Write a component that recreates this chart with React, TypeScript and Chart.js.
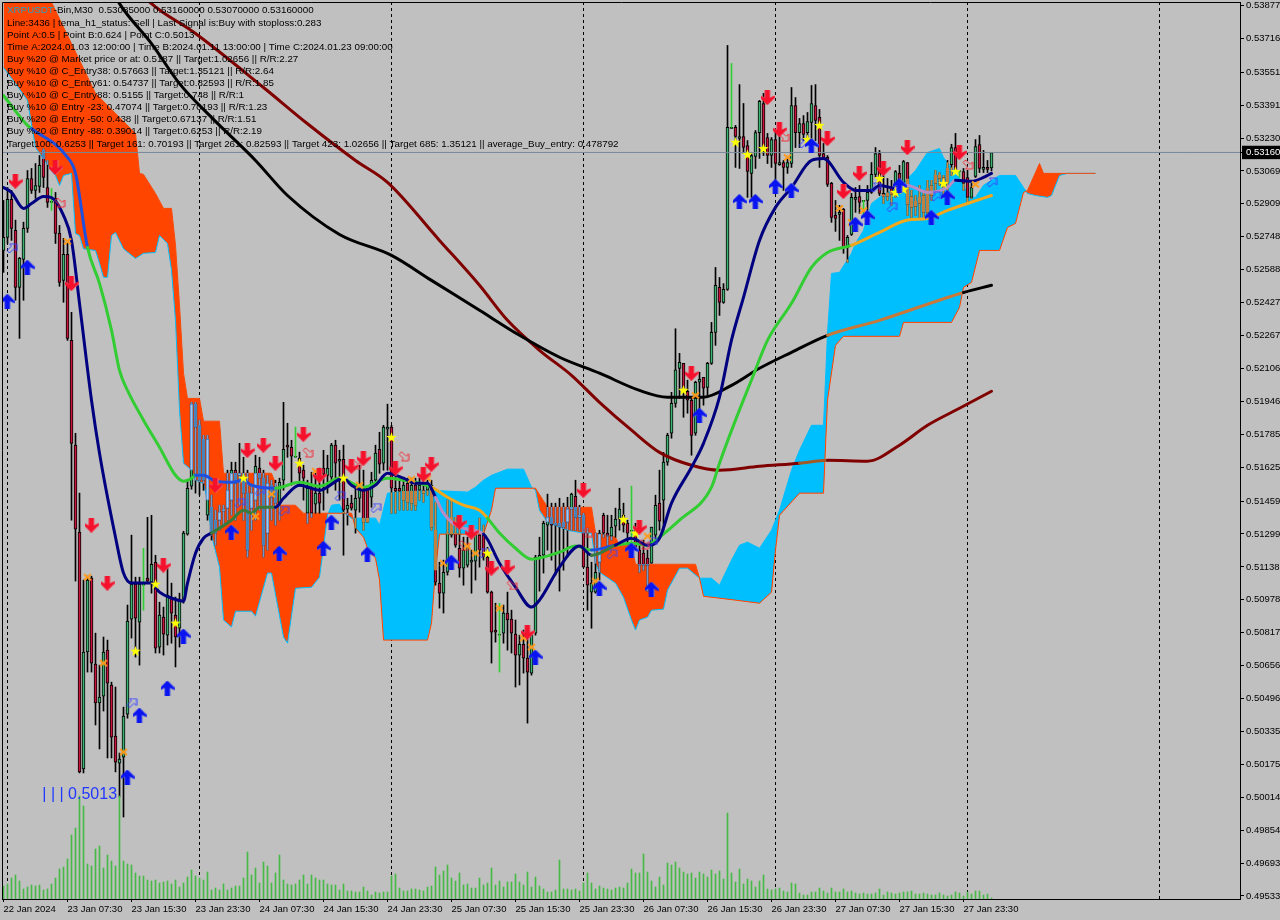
import React, { useEffect, useRef } from "react";
import { Chart, registerables } from "chart.js";

Chart.register(...registerables);

const opens = [
.52682,.52746,.52931,.5278,.52502,.52638,.5279,.53033,.52975,.52994,
.5317,.52989,.52916,.52936,.52765,.52536,.52663,.52243,.51732,.51308,
.50152,.50723,.51083,.50664,.50474,.50508,.50732,.50562,.50313,.50181,
.5021,.5042,.50883,.51054,.50869,.51049,.51083,.51064,.51161,.50747,
.50893,.50805,.50986,.50903,.50839,.50981,.51298,.51532,.51932,.51829,
.5176,.5139,.51429,.51366,.51366,.5141,.51425,.51464,.5161,.51585,
.51595,.51498,.51425,.51464,.5162,.51571,.51303,.51537,.51527,.51449,
.51561,.51732,.51722,.51673,.51668,.5161,.514,.51522,.51444,.51498,
.5162,.51585,.51576,.51732,.51654,.51663,.5142,.51449,.51415,.51473,
.51522,.51522,.51478,.51561,.51712,.51644,.5181,.5182,.51522,.51522,
.51464,.51546,.51449,.51537,.51512,.51512,.51512,.51537,.51317,.51059,
.5101,.51112,.51293,.51303,.51229,.51132,.51147,.51161,.51166,.51293,
.51293,.51186,.51015,.5083,.50805,.50815,.50913,.50883,.5081,.50708,
.5076,.50693,.5062,.50815,.51181,.51195,.51342,.5138,.51351,.51351,
.51356,.51356,.5142,.51483,.5138,.5139,.51137,.51015,.51015,.51161,
.5139,.51303,.51288,.51337,.51371,.5139,.51351,.51312,.51317,.5122,
.51205,.51181,.51156,.51293,.51449,.51464,.51649,.5179,.51936,.52107,
.52131,.51995,.51951,.5179,.52039,.52063,.52014,.52131,.52282,.52502,
.52429,.52492,.53277,.53282,.53228,.53238,.53194,.53058,.53141,.53257,
.53399,.53233,.53145,.53223,.53101,.53111,.53087,.53106,.53389,.53257,
.53301,.53257,.53306,.53389,.53331,.53155,.53136,.53009,.52853,.52858,
.52882,.52697,.5276,.52931,.52945,.52921,.52926,.52965,.53053,.53155,
.5296,.52945,.52985,.52985,.53058,.53014,.53111,.52892,.52921,.52911,
.5295,.52868,.5295,.53009,.53033,.52999,.53014,.53101,.53184,.53067,
.53067,.53038,.52941,.53043,.53199,.53077,.53087,.53085];

const highs = [
.52926,.52989,.52975,.5283,.52648,.5282,.53072,.53082,.53106,.53145,
.53179,.53121,.52921,.52965,.52804,.52741,.52716,.5238,.5179,.51498,
.51074,.51093,.51093,.50815,.50659,.50796,.50781,.50576,.50552,.5023,
.50454,.50952,.51293,.51088,.51088,.51054,.5138,.5139,.51195,.50966,
.50942,.51132,.51059,.50991,.5101,.51312,.51561,.51941,.51941,.51854,
.5178,.5178,.51488,.51415,.51439,.51439,.5161,.51649,.51649,.51741,
.51673,.5161,.51537,.51683,.51673,.5161,.51585,.51561,.51561,.51571,
.51941,.51839,.51756,.51678,.51698,.51634,.51561,.516,.51595,.5162,
.51707,.51683,.51741,.51756,.51707,.51732,.51473,.51488,.51537,.51634,
.5161,.51522,.516,.51732,.51795,.51829,.51932,.51829,.5161,.51561,
.51571,.51571,.51571,.51571,.51571,.51561,.51561,.51561,.51454,.51161,
.51171,.51464,.51464,.5138,.51332,.51283,.51283,.5122,.51303,.51376,
.51342,.51234,.5102,.50961,.5081,.50952,.51015,.50927,.50879,.50805,
.5083,.50839,.50815,.51195,.51283,.51361,.51493,.51449,.51449,.51473,
.51449,.51478,.51498,.51561,.51439,.514,.51327,.51161,.51303,.51317,
.514,.5139,.5139,.51425,.51522,.51449,.51366,.51317,.51351,.51244,
.51269,.5122,.51332,.51488,.5161,.51697,.5179,.5199,.523,.5218,
.52131,.52049,.5196,.52044,.52088,.52063,.52136,.52331,.52599,.5255,
.5252,.53682,.53282,.53292,.53491,.53399,.53218,.53155,.53267,.53414,
.53448,.53253,.53233,.53267,.53292,.53121,.53136,.53477,.53428,.53326,
.5334,.53355,.53487,.53491,.5337,.53204,.53145,.53014,.52926,.52902,
.52887,.52755,.5296,.52989,.52999,.52926,.52999,.53111,.53184,.5317,
.53062,.53033,.53024,.53072,.53097,.53121,.53111,.52975,.5295,.52999,
.52975,.53024,.53024,.53072,.53062,.53048,.53121,.532,.53253,.53072,
.53082,.53072,.53009,.53223,.53243,.5317,.53121,.5316];

const lows = [
.52575,.52716,.52731,.52439,.52253,.52439,.5277,.5296,.52936,.52965,
.52989,.52892,.52916,.52716,.52507,.52429,.52243,.51366,.51069,.50133,
.50133,.50625,.50625,.50367,.5025,.50435,.50206,.50206,.50138,.50016,
.49918,.504,.50791,.50698,.50659,.51049,.51059,.5101,.50718,.50718,
.50708,.50757,.50766,.5065,.50747,.50961,.51293,.51517,.51498,.51488,
.51512,.51366,.51269,.51244,.51317,.51342,.51366,.5139,.51366,.51439,
.51366,.51186,.51317,.51366,.51415,.51186,.5122,.51366,.51342,.51366,
.51512,.51673,.51537,.51673,.51546,.51464,.51351,.5138,.514,.514,
.51415,.51498,.51561,.51512,.51464,.51195,.51342,.51415,.51303,.51405,
.51317,.51356,.51429,.51546,.51595,.5161,.5161,.514,.514,.51415,
.51415,.51415,.51415,.51415,.51464,.51454,.51488,.51317,.51049,.50937,
.50913,.51098,.51283,.51234,.51088,.51049,.51137,.5101,.51074,.51137,
.51171,.5101,.50669,.50771,.50805,.50766,.50732,.50718,.50552,.50562,
.5062,.50376,.5061,.50805,.5102,.51108,.5122,.51171,.51098,.5102,
.51122,.51186,.51317,.51317,.51317,.51137,.50927,.50839,.5101,.51074,
.51283,.51244,.51269,.51283,.51317,.51308,.51254,.51312,.5122,.51112,
.51122,.5102,.51156,.51269,.51317,.51317,.51634,.51766,.51917,.5196,
.51868,.51888,.51683,.5178,.51854,.51927,.51975,.52126,.52219,.52365,
.52424,.52487,.53277,.53087,.53082,.53155,.52941,.52941,.53082,.53131,
.53145,.53106,.53087,.52985,.53097,.52975,.53058,.53087,.53184,.53184,
.53218,.53218,.53218,.53218,.53087,.53126,.52994,.52819,.52775,.52731,
.52668,.52624,.52755,.52868,.52863,.52921,.52877,.5296,.53038,.5295,
.52911,.52926,.52902,.52941,.5296,.52999,.52853,.52843,.52853,.52843,
.52843,.52843,.52926,.52975,.52999,.5295,.52975,.53048,.53062,.53067,
.52975,.52911,.52936,.53038,.53062,.53062,.53062,.5307];

const closes = [
.52746,.52931,.5279,.52502,.52643,.5279,.53033,.52975,.52999,.53097,
.53038,.52916,.52921,.52765,.52526,.52663,.52253,.51741,.51322,.50138,
.50723,.51074,.50669,.50474,.50503,.50723,.50571,.50308,.50186,.50201,
.5041,.50874,.51054,.50888,.51054,.51054,.51069,.51151,.50742,.50903,
.5081,.51,.50913,.50796,.50971,.51303,.51522,.51932,.5182,.51561,
.51561,.5176,.51303,.51303,.51405,.5142,.51512,.5161,.51546,.51595,
.51498,.5122,.51498,.51629,.51571,.51244,.51546,.51478,.51449,.51551,
.51712,.51722,.51678,.51678,.51595,.51571,.51522,.514,.51498,.51449,
.5159,.5162,.51732,.51644,.51663,.51415,.51439,.51425,.51473,.51537,
.51356,.51356,.51561,.51693,.51639,.5182,.5182,.51522,.51507,.51507,
.51537,.51454,.51537,.51439,.51537,.51498,.51537,.51332,.51064,.5101,
.51112,.51303,.5138,.51244,.51132,.5122,.51234,.51171,.51293,.5122,
.51186,.51015,.5082,.5082,.5081,.50913,.50879,.50815,.50708,.5076,
.50693,.50625,.50805,.51186,.51195,.51351,.5138,.51342,.51342,.51332,
.51332,.5142,.51493,.5138,.5139,.51137,.51049,.51059,.51112,.51303,
.51303,.51288,.51332,.51371,.5142,.51342,.51303,.51317,.51234,.51147,
.51147,.51147,.51332,.51439,.51361,.51649,.5178,.51936,.521,.52136,
.5199,.51951,.5178,.52039,.52053,.5201,.52131,.52282,.52512,.52429,
.52492,.53282,.53282,.53238,.53238,.53184,.53067,.53145,.53257,.53409,
.53175,.53145,.53223,.53106,.53111,.53087,.53111,.53389,.53257,.53301,
.53248,.53311,.53399,.53316,.53145,.53136,.53004,.52843,.52838,.52868,
.52697,.52746,.52941,.52941,.52916,.52926,.52965,.53053,.53155,.5296,
.52945,.5296,.52955,.53067,.5297,.53116,.52906,.52945,.52897,.52941,
.52868,.52985,.52999,.53048,.53048,.53038,.53082,.53184,.53072,.53072,
.53009,.52941,.52989,.53189,.53082,.53087,.53077,.5316];

const volumes = [
13,15,21,24,18,10,12,14,13,14,9,10,15,21,30,32,40,64,71,103,
93,35,33,50,53,31,44,38,33,103,38,35,34,26,23,23,19,18,19,16,
17,18,15,19,12,16,22,29,23,21,19,27,9,11,9,15,9,11,13,13,
21,47,24,31,16,37,33,16,26,44,19,15,14,15,19,24,15,24,21,19,
19,15,14,14,9,15,8,8,7,7,12,8,4,7,6,7,7,23,25,11,
8,8,10,10,9,8,12,13,32,24,28,34,21,18,26,14,15,11,11,21,
14,16,31,14,18,12,17,17,25,17,14,27,12,22,13,10,7,7,9,39,
10,10,9,10,8,16,26,16,10,13,11,10,9,11,12,11,16,30,26,26,
45,27,18,12,22,14,36,34,37,31,27,25,26,21,27,25,22,29,25,28,
20,86,26,17,30,15,20,18,12,18,24,10,9,10,11,8,7,16,15,6,
4,4,7,7,11,8,6,11,7,7,10,7,8,6,5,6,5,5,6,10,
4,7,6,5,6,7,7,8,5,5,6,5,4,4,6,4,3,4,7,6,
3,7,5,8,8,4,5,1];

const thinBars = [12,35,73,124,157,182,215,239];
const thinHighs = [.52984,.51229,.5182,.50961,.51532,.53594,.52926,.53072];
const thinLows = [.52877,.50927,.51673,.50625,.51234,.53282,.52853,.53038];

const spanABars = [0,3,6,8,10,12,13,14,15,17,18,19,20,23,24,25,26,27,28,30,33,35,38,39,41,42,43,44,45,47,48,50,51,52,54,55,57,58,62,63,66,67,70,71,73,77,79,80,81,82,84,85,87,93,94,96,100,107,116,118,120,122,126,130,132,133,134,136,141,145,147,148,149,153,155,157,158,159,161,162,165,166,169,171,174,177,179,182,184,186,189,192,194,197,199,202,205,206,207,209,212,213,215,217,220,224,228,231,234,235,240,241,243,245,249,253,255,256,258,261,262,264,266,273];
const spanAPrices = [.53574,.53496,.53414,.53184,.5313,.53072,.53048,.52999,.53048,.53058,.52765,.52755,.5269,.52682,.52619,.52551,.52551,.52755,.5277,.5269,.52643,.52668,.52672,.52755,.52716,.52585,.5234,.51902,.51644,.5161,.51561,.51546,.51464,.51293,.51137,.50879,.50845,.50922,.50922,.50898,.51108,.51108,.50796,.50766,.51034,.51039,.51088,.51234,.5139,.51439,.51444,.51405,.51376,.51376,.51342,.51498,.51507,.51512,.51503,.51527,.51561,.51585,.51615,.51615,.51527,.51512,.51415,.51356,.51317,.51303,.51303,.51156,.51112,.51059,.5099,.50879,.5083,.50879,.50893,.50927,.50932,.51025,.51132,.51132,.51083,.51083,.51049,.51171,.51244,.51259,.51229,.51317,.51415,.5161,.51707,.51829,.51829,.52278,.5257,.52575,.52668,.52716,.5278,.52911,.52955,.5299,.53072,.5316,.53179,.53136,.53009,.52941,.52941,.53,.53048,.53048,.52989,.5296,.5295,.52941,.5295,.53048,.53058,.53058];

const spanBBars = [0,13,17,23,33,34,35,38,40,42,43,44,45,46,49,50,54,55,67,68,69,73,75,87,88,90,91,93,94,95,106,107,108,109,120,122,123,133,136,147,148,153,154,157,158,173,174,175,183,189,192,193,194,199,205,206,208,210,224,225,237,239,240,242,244,249,251,253,255,256,259,260,266,273];
const spanBPrices = [.54389,.53852,.53691,.53448,.53253,.53058,.53053,.5296,.52887,.52887,.52707,.52414,.52083,.5196,.5196,.51849,.51849,.51595,.51595,.51546,.51439,.51439,.514,.514,.51327,.51283,.51229,.5118,.51074,.50781,.50781,.50864,.51122,.51298,.51298,.51415,.51522,.51522,.51429,.51429,.51303,.51283,.51244,.51244,.51151,.51151,.51083,.50995,.50976,.50961,.51015,.5122,.5139,.51498,.51498,.51951,.52219,.52263,.52263,.52331,.52331,.52404,.52502,.52526,.52682,.52682,.52794,.52814,.52965,.52975,.53106,.53058,.53058,.53058];

const blackBars = [22,29,37,44,52,63,71,84,97,107,119,129,139,149,159,166,175,182,189,197,206,219,240,247];
const blackPrices = [.54145,.53886,.53691,.53496,.53331,.53121,.5295,.5276,.52658,.52536,.5239,.52268,.52161,.52083,.51999,.51966,.51966,.52024,.52107,.52185,.52268,.52341,.52477,.52512];

const maroonBars = [20,37,48,65,76,88,96,109,119,126,134,142,149,157,164,172,179,189,199,206,216,224,231,239,247];
const maroonPrices = [.5424,.53886,.5374,.53477,.533,.53121,.53014,.52731,.52512,.52341,.52195,.52073,.51941,.51805,.51697,.51634,.5161,.51629,.51644,.51658,.51654,.51732,.51829,.51912,.51995];

const greenBars = [0,6,7,16,18,21,24,27,29,31,35,39,43,45,47,48,50,53,57,60,62,68,74,79,84,90,96,100,104,107,111,115,119,121,124,128,132,134,139,143,147,153,157,161,164,169,177,179,183,187,191,197,202,206,212,219,226,231,236,241,247];
const greenPrices = [.53438,.53292,.53277,.53136,.53058,.52697,.52521,.52292,.52097,.51999,.51854,.51722,.51585,.51556,.5157,.51585,.51585,.51556,.51551,.51561,.51537,.51522,.51551,.51532,.51571,.51527,.51571,.51561,.51546,.51527,.51478,.51439,.51415,.51376,.51303,.51229,.51176,.51181,.5121,.5124,.5122,.51244,.51254,.51244,.51283,.51366,.51527,.51644,.51854,.5205,.52243,.52424,.52599,.52672,.52707,.5277,.5283,.52838,.52877,.52911,.5295];

const navyBars = [0,2,5,7,10,12,15,17,19,22,24,28,30,32,37,39,42,45,46,48,50,52,57,60,62,64,68,70,74,79,85,87,90,93,96,100,103,106,108,110,114,120,124,128,132,134,139,144,147,153,157,161,164,167,172,175,179,182,185,189,193,197,202,205,210,213,217,219,223,226,231,236,238,242,245,247];
const navyPrices = [.52989,.52965,.52887,.52911,.52945,.5294,.52853,.52731,.52424,.51951,.51693,.51283,.51108,.51059,.51059,.51015,.50986,.50971,.51059,.51205,.51278,.51303,.51366,.51415,.514,.51429,.51429,.51473,.51537,.51512,.51571,.51537,.51512,.51537,.51595,.51571,.51546,.51546,.51478,.514,.51332,.51298,.51156,.51039,.50942,.50976,.51137,.5124,.51195,.51244,.51278,.51244,.51278,.51449,.51624,.51741,.51966,.52244,.52453,.52731,.52892,.52989,.53121,.5313,.53014,.52975,.52975,.52999,.52985,.52999,.52965,.52989,.53024,.53019,.53038,.53058];

const priceLineBars = [-1, 311];
const priceLineValues = [.5316, .5316];

const redDownBars = [3,13,17,22,26,40,53,61,65,68,75,79,87,90,98,105,107,114,117,122,126,131,145,159,172,191,194,206,210,214,220,226,239];
const redDownPrices = [.5302,.53087,.52521,.51342,.51059,.51147,.51537,.51707,.51732,.51644,.51785,.51585,.51629,.51668,.5162,.5159,.51639,.51356,.51308,.51132,.51137,.5082,.51512,.51332,.52083,.53428,.53272,.53228,.5297,.53058,.53082,.53184,.5316];

const blueUpBars = [1,6,31,34,41,45,57,69,80,82,91,112,133,149,157,162,174,184,188,193,197,202,213,216,224,232,236];
const blueUpPrices = [.52434,.526,.50113,.50415,.50547,.50801,.51308,.51205,.51229,.51356,.512,.51161,.50698,.51034,.5122,.5103,.51878,.52921,.52921,.52994,.52975,.53194,.52809,.52843,.52999,.52843,.52941];

const starBars = [33,38,43,60,74,85,97,121,155,158,170,183,186,190,201,204,219,223,225,235,238];
const starPrices = [.50727,.51054,.50864,.51571,.51644,.51571,.5177,.51205,.5137,.51303,.52,.5321,.5315,.53179,.53223,.53292,.53033,.52965,.5298,.53009,.53067];

const crossBars = [16,21,25,30,63,67,78,89,102,106,110,116,118,124,130,132,148,161,173,196,209,212,215,243];
const crossPrices = [.52726,.51088,.50669,.50235,.51385,.51493,.51605,.51537,.51566,.51571,.51156,.51239,.51205,.50937,.50791,.50747,.51069,.51288,.51975,.53136,.52887,.52819,.52877,.53004];

const hollowBlueBars = [2,32,59,64,70,84,93,120,152,162,200,218,222,233,247];
const hollowBluePrices = [.52692,.50474,.51449,.51507,.5141,.51483,.51425,.51205,.512,.51259,.53204,.52989,.52892,.52945,.53014];

const hollowRedBars = [14,76,88,100,115,127,146,160,195,241];
const hollowRedPrices = [.52916,.51697,.51639,.51678,.51244,.5105,.51308,.51249,.53238,.53101];

const timeTickBars = [0,16,32,48,64,80,96,112,128,144,160,176,192,208,224,240];
const timeTickLabels = ["22 Jan 2024","23 Jan 07:30","23 Jan 15:30","23 Jan 23:30","24 Jan 07:30","24 Jan 15:30","24 Jan 23:30","25 Jan 07:30","25 Jan 15:30","25 Jan 23:30","26 Jan 07:30","26 Jan 15:30","26 Jan 23:30","27 Jan 07:30","27 Jan 15:30","27 Jan 23:30"];
const daySeparatorBars = [1,49,97,145,193,241,289];

const priceTicks = [.538771,.537165,.535515,.533910,.532304,.530699,.529094,.527488,.525883,.524277,.522671,.521064,.519460,.517855,.516250,.514590,.512990,.511382,.509780,.508174,.506569,.504963,.503358,.501752,.500147,.498541,.496936,.495330];
const lastPrice = .5316;

const commentLines = [
  "-Bin,M30  0.53085000 0.53160000 0.53070000 0.53160000",
  "Line:3436 | tema_h1_status: Sell | Last Signal is:Buy with stoploss:0.283",
  "Point A:0.5 | Point B:0.624 | Point C:0.5013",
  "Time A:2024.01.03 12:00:00 | Time B:2024.01.11 13:00:00 | Time C:2024.01.23 09:00:00",
  "Buy %20 @ Market price or at: 0.5187 || Target:1.02656 || R/R:2.27",
  "Buy %10 @ C_Entry38: 0.57663 || Target:1.35121 || R/R:2.64",
  "Buy %10 @ C_Entry61: 0.54737 || Target:0.82593 || R/R:1.85",
  "Buy %10 @ C_Entry88: 0.5155 || Target:0.748 || R/R:1",
  "Buy %10 @ Entry -23: 0.47074 || Target:0.70193 || R/R:1.23",
  "Buy %20 @ Entry -50: 0.438 || Target:0.67137 || R/R:1.51",
  "Buy %20 @ Entry -88: 0.39014 || Target:0.6253 || R/R:2.19",
  "Target100: 0.6253 || Target 161: 0.70193 || Target 261: 0.82593 || Target 423: 1.02656 || Target 685: 1.35121 || average_Buy_entry: 0.478792",
];
const symbolText = "XRPUSDT";
const pivotLabel = "| | | 0.5013";

const FONT = '"Liberation Sans", sans-serif';

function interp(xs: number[], ys: number[], x: number): number {
  if (x <= xs[0]) return ys[0];
  for (let k = 1; k < xs.length; k++) {
    if (x <= xs[k]) {
      const t = (x - xs[k - 1]) / (xs[k] - xs[k - 1]);
      return ys[k - 1] + t * (ys[k] - ys[k - 1]);
    }
  }
  return ys[ys.length - 1];
}

function cloudAt(x: number) {
  const a = interp(spanABars, spanAPrices, x);
  const b = interp(spanBBars, spanBPrices, x);
  return { lo: Math.min(a, b), hi: Math.max(a, b), cyan: a >= b };
}

function toPoints(xs: number[], ys: number[]) {
  return xs.map((x, k) => ({ x, y: ys[k] }));
}

function lineSet(xs: number[], ys: number[], base: string, onCyan: string, onOrange: string, order: number) {
  return {
    type: "line",
    data: toPoints(xs, ys),
    borderColor: base,
    borderWidth: 3,
    pointRadius: 0,
    cubicInterpolationMode: "monotone",
    fill: false,
    order,
    borderCapStyle: "round",
    borderJoinStyle: "round",
    segment: {
      borderColor: (ctx: any) => {
        const m = (xs[ctx.p0DataIndex] + xs[ctx.p1DataIndex]) / 2;
        const v = (ys[ctx.p0DataIndex] + ys[ctx.p1DataIndex]) / 2;
        const c = cloudAt(m);
        if (v > c.lo && v < c.hi) return c.cyan ? onCyan : onOrange;
        return base;
      },
    },
  };
}

function glyph(w: number, h: number, draw: (c: CanvasRenderingContext2D) => void) {
  const cv = document.createElement("canvas");
  cv.width = w;
  cv.height = h;
  draw(cv.getContext("2d") as CanvasRenderingContext2D);
  return cv;
}

function poly(c: CanvasRenderingContext2D, pts: number[][]) {
  c.beginPath();
  pts.forEach((p, k) => (k ? c.lineTo(p[0], p[1]) : c.moveTo(p[0], p[1])));
  c.closePath();
}

function makeArrow(color: string, shade: string, down: boolean) {
  const shape = [[7,0],[14,7],[14,9.5],[9.5,7],[9.5,15],[4.5,15],[4.5,7],[0,9.5],[0,7]];
  return glyph(14, 15, (c) => {
    const pts = down ? shape.map((p) => [p[0], 15 - p[1]]) : shape;
    c.fillStyle = shade;
    poly(c, pts.map((p) => [p[0] + 0.6, p[1]]));
    c.fill();
    c.fillStyle = color;
    poly(c, pts.map((p) => [p[0] - 0.3, p[1]]));
    c.fill();
  });
}

function makeStar() {
  return glyph(11, 11, (c) => {
    const pts: number[][] = [];
    for (let k = 0; k < 10; k++) {
      const r = k % 2 ? 2.2 : 5.6;
      const a = -Math.PI / 2 + (k * Math.PI) / 5;
      pts.push([5.5 + r * Math.cos(a), 5.8 + r * Math.sin(a)]);
    }
    c.fillStyle = "#ffff00";
    poly(c, pts);
    c.fill();
  });
}

function makeCross() {
  return glyph(9, 9, (c) => {
    c.strokeStyle = "#ff9a1a";
    c.lineWidth = 2;
    c.beginPath();
    c.moveTo(1, 1.5);
    c.lineTo(8, 7.5);
    c.moveTo(8, 1.5);
    c.lineTo(1, 7.5);
    c.stroke();
  });
}

function makeHollow(color: string, rightDown: boolean) {
  const shape = [[11,1],[11,8],[8.5,5.8],[4,10],[1.5,7.5],[6,3.2],[4,1]];
  return glyph(12, 11, (c) => {
    const pts = rightDown ? shape.map((p) => [p[0], 11 - p[1]]) : shape;
    c.strokeStyle = color;
    c.lineWidth = 1;
    poly(c, pts);
    c.stroke();
  });
}

function markerSet(xs: number[], ys: number[], style: HTMLCanvasElement, order: number) {
  return {
    type: "line",
    data: toPoints(xs, ys),
    showLine: false,
    pointStyle: style,
    pointRadius: 6,
    order,
  };
}

function noPadding(s: any) {
  s.paddingLeft = 0;
  s.paddingRight = 0;
  s.paddingTop = 0;
  s.paddingBottom = 0;
}

export default function App() {
  const ref = useRef<HTMLCanvasElement>(null);

  useEffect(() => {
    const canvas = ref.current as HTMLCanvasElement;
    const bars = opens.map((_, i) => i);

    const upColor = "#3cb371";
    const downColor = "#c8143c";

    const wickIn: any[] = [];
    const wickInColors: string[] = [];
    const bodyIn: any[] = [];
    const bodyInFill: string[] = [];
    const bodyInEdge: string[] = [];
    bars.forEach((i) => {
      const c = cloudAt(i);
      const lo = Math.max(lows[i], c.lo);
      const hi = Math.min(highs[i], c.hi);
      if (hi > lo) {
        wickIn.push({ x: i, y: [lo, hi] });
        wickInColors.push(c.cyan ? "#d08c3c" : "#6f9bd0");
      }
      const bLo = Math.max(Math.min(opens[i], closes[i]), c.lo);
      const bHi = Math.min(Math.max(opens[i], closes[i]), c.hi);
      if (bHi > bLo) {
        bodyIn.push({ x: i, y: [bLo, bHi] });
        const up = closes[i] >= opens[i];
        bodyInFill.push(c.cyan ? "#c08040" : up ? "#a8c8ec" : "#4682b4");
        bodyInEdge.push(c.cyan ? "#c08040" : "#4a86c5");
      }
    });

    const sharedBar = { type: "bar", grouped: false, borderSkipped: false };

    const chart = new Chart(canvas, {
      data: {
        datasets: [
          {
            type: "line",
            data: toPoints(spanABars, spanAPrices),
            borderColor: "#00bfff",
            borderWidth: 1,
            pointRadius: 0,
            tension: 0,
            fill: { target: 1, above: "#00bfff", below: "#ff4500" },
            order: 60,
          },
          {
            type: "line",
            data: toPoints(spanBBars, spanBPrices),
            borderColor: "#ff4500",
            borderWidth: 1,
            pointRadius: 0,
            tension: 0,
            fill: false,
            order: 59,
          },
          {
            ...sharedBar,
            data: bars.map((i) => ({ x: i, y: [lows[i], highs[i]] })),
            backgroundColor: "#000000",
            barThickness: 1,
            order: 50,
          },
          {
            ...sharedBar,
            data: wickIn,
            backgroundColor: wickInColors,
            barThickness: 1,
            order: 49,
          },
          {
            ...sharedBar,
            data: bars.map((i) => ({ x: i, y: [opens[i], closes[i]] })),
            backgroundColor: bars.map((i) => (closes[i] >= opens[i] ? upColor : downColor)),
            borderColor: "#000000",
            borderWidth: 1,
            barThickness: 3,
            order: 48,
          },
          {
            ...sharedBar,
            data: bodyIn,
            backgroundColor: bodyInFill,
            borderColor: bodyInEdge,
            borderWidth: 1,
            barThickness: 3,
            order: 47,
          },
          {
            ...sharedBar,
            data: thinBars.map((x, k) => ({ x, y: [thinLows[k], thinHighs[k]] })),
            backgroundColor: "#32cd32",
            barThickness: 1,
            order: 46,
          },
          {
            ...sharedBar,
            yAxisID: "yVol",
            data: bars.map((i) => ({ x: i, y: volumes[i] })),
            backgroundColor: "#46b946",
            barThickness: 1,
            order: 45,
          },
          {
            type: "line",
            data: toPoints(priceLineBars, priceLineValues),
            borderColor: "#778899",
            borderWidth: 1,
            pointRadius: 0,
            order: 40,
          },
          lineSet(maroonBars, maroonPrices, "#800000", "#a05a28", "#6a3a9a", 24),
          lineSet(blackBars, blackPrices, "#000000", "#c87838", "#333333", 23),
          lineSet(greenBars, greenPrices, "#32cd32", "#f2a81c", "#1e50e0", 22),
          lineSet(navyBars, navyPrices, "#000080", "#b78cc4", "#3a7a3a", 21),
          markerSet(hollowBlueBars, hollowBluePrices, makeHollow("#3a46ff", false), 14),
          markerSet(hollowRedBars, hollowRedPrices, makeHollow("#f0303c", true), 13),
          markerSet(crossBars, crossPrices, makeCross(), 12),
          markerSet(starBars, starPrices, makeStar(), 11),
          markerSet(blueUpBars, blueUpPrices, makeArrow("#0a14f0", "#7080d8", false), 10),
          markerSet(redDownBars, redDownPrices, makeArrow("#f5102c", "#e87a84", true), 9),
        ] as any,
      },
      options: {
        animation: false,
        responsive: false,
        devicePixelRatio: 1,
        layout: { autoPadding: false, padding: { left: 2, top: 2, right: 0, bottom: 0 } },
        plugins: { legend: { display: false }, tooltip: { enabled: false }, title: { display: false } },
        datasets: { line: { xAxisID: "x", yAxisID: "y" }, bar: { xAxisID: "x" } },
        scales: {
          x: {
            type: "linear",
            position: "bottom",
            offset: false,
            min: -0.375,
            max: 309.125,
            afterBuildTicks: (s: any) => {
              s.ticks = timeTickBars.map((value) => ({ value }));
            },
            afterFit: (s: any) => {
              s.height = 21;
              noPadding(s);
            },
            grid: { drawOnChartArea: false, drawTicks: true, tickLength: 3, color: "#000000", offset: false },
            border: { color: "#000000", width: 1 },
            ticks: {
              autoSkip: false,
              maxRotation: 0,
              minRotation: 0,
              align: "start",
              padding: 2,
              color: "#000000",
              font: { family: FONT, size: 9.5 },
              callback: (v: any) => timeTickLabels[timeTickBars.indexOf(v)] ?? "",
            },
          },
          xSep: {
            type: "linear",
            position: "bottom",
            offset: false,
            min: -0.375,
            max: 309.125,
            afterBuildTicks: (s: any) => {
              s.ticks = daySeparatorBars.map((value) => ({ value }));
            },
            afterFit: (s: any) => {
              s.height = 0;
              noPadding(s);
            },
            grid: { color: "#000000", lineWidth: 1, drawTicks: false, tickBorderDash: [3, 3], offset: false },
            border: { display: false, dash: [3, 3] },
            ticks: { display: false, autoSkip: false },
          },
          y: {
            type: "linear",
            position: "right",
            min: 0.49518,
            max: 0.53894,
            afterBuildTicks: (s: any) => {
              s.ticks = [...priceTicks, lastPrice].map((value) => ({ value }));
            },
            afterFit: (s: any) => {
              s.width = 40;
              noPadding(s);
            },
            grid: { drawOnChartArea: false, drawTicks: true, tickLength: 4, color: "#000000" },
            border: { color: "#000000", width: 1 },
            ticks: {
              autoSkip: false,
              padding: 2,
              font: { family: FONT, size: 9.5 },
              color: (c: any) => (c.tick && c.tick.value === lastPrice ? "#ffffff" : "#000000"),
              showLabelBackdrop: true,
              backdropPadding: { left: 4, right: 10, top: 1, bottom: 1 },
              backdropColor: (c: any) => (c.tick && c.tick.value === lastPrice ? "#000000" : "rgba(0,0,0,0)"),
              callback: (v: any) => (v === lastPrice ? v.toFixed(5) : v.toFixed(6)),
            },
          },
          yVol: { type: "linear", display: false, min: 0, max: 897 },
        },
      } as any,
      plugins: [
        {
          id: "frameAndText",
          afterDatasetsDraw(ch: any) {
            const { ctx, chartArea, scales } = ch;
            ctx.save();
            ctx.strokeStyle = "#000000";
            ctx.lineWidth = 1;
            ctx.beginPath();
            ctx.moveTo(chartArea.left + 0.5, chartArea.bottom);
            ctx.lineTo(chartArea.left + 0.5, chartArea.top + 0.5);
            ctx.lineTo(chartArea.right, chartArea.top + 0.5);
            ctx.stroke();

            ctx.textBaseline = "middle";
            ctx.textAlign = "left";
            ctx.font = `9.8px ${FONT}`;
            ctx.fillStyle = "#000000";
            const rowY = [10, 23, 35, 47, 59, 71, 83, 95, 107, 119, 131, 144];
            commentLines.forEach((line, k) => {
              const dx = k === 0 ? 7 + ctx.measureText(symbolText).width : 7;
              ctx.fillText(line, dx, rowY[k]);
            });
            ctx.fillStyle = "#2c9fc0";
            ctx.fillText(symbolText, 7, rowY[0]);

            ctx.fillStyle = "#2038ff";
            ctx.font = '16px "Liberation Sans", sans-serif';
            ctx.fillText(pivotLabel, scales.x.getPixelForValue(9.7), scales.y.getPixelForValue(0.50027));
            ctx.restore();
          },
        },
      ],
    } as any);
    return () => chart.destroy();
  }, []);

  return (
    <canvas
      ref={ref}
      width={1280}
      height={920}
      style={{ position: "fixed", left: 0, top: 0, width: 1280, height: 920, background: "#c0c0c0", display: "block" }}
    />
  );
}
